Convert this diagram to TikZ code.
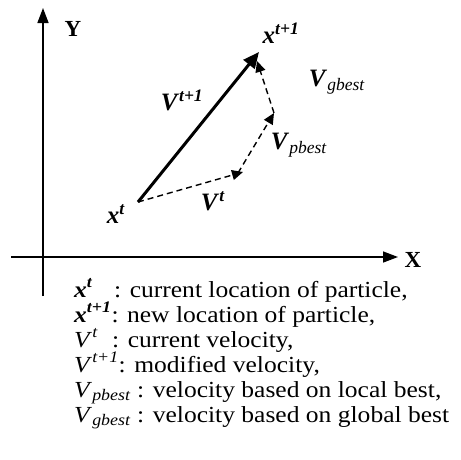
\documentclass[tikz,border=0pt]{standalone}
\usepackage{fontspec}
\setmainfont{Liberation Serif}
\newfontfamily\legfont[FakeStretch=1.11]{Liberation Serif}
\usetikzlibrary{arrows.meta}
\newcommand\bix[1]{\textbf{\textit{#1}}}
\begin{document}
\begin{tikzpicture}[x=1pt,y=-1pt,
  axis/.style={line width=1.5pt,-{Triangle[length=15pt,width=11pt]}},
  mainvec/.style={line width=3pt,-{Triangle[length=16pt,width=14pt]}},
  compvec/.style={line width=1.4pt,dash pattern=on 6pt off 4pt,-{Triangle[length=11pt,width=10pt]}},
  lbl/.style={font=\fontsize{25}{28}\selectfont,inner sep=0pt},
  axlbl/.style={font=\fontsize{23}{26}\selectfont\bfseries,inner sep=0pt},
  leg/.style={font=\legfont\fontsize{23}{25}\selectfont,inner sep=0pt,anchor=base west}]
\useasboundingbox (0,0) rectangle (461,459);
% axes
\coordinate (yb) at (43,296);
\coordinate (yt) at (43,8);
\coordinate (xl) at (11,257);
\coordinate (xr) at (398,257);
\draw[axis] (yb) -- (yt);
\draw[axis] (xl) -- (xr);
\node[axlbl] (ylab) at (73,29) {Y};
\node[axlbl] (xlab) at (413,260) {X};
% points
\coordinate (xt) at (138,202);
\coordinate (xt1) at (259,52);
\coordinate (vt) at (243,172);
\coordinate (vts) at (238,173);
\coordinate (vp) at (274,113);
\coordinate (vg) at (257,61);
\draw[mainvec] (xt) -- (xt1);
\draw[compvec] (xt) -- (vt);
\draw[compvec] (vts) -- (vp);
\draw[compvec] (vp) -- (vg);
% labels
\node[lbl] (lxt) at (116,214) {\bix{x}\textsuperscript{\bix{t}}};
\node[lbl] (lxt1) at (281,33) {\bix{x}\textsuperscript{\bix{t+1}}};
\node[lbl] (lv1) at (182,100) {\bix{V}\textsuperscript{\bix{t+1}}};
\node[lbl] (lvg) at (337,82) {\bix{V}\textsubscript{\textit{gbest}}};
\node[lbl] (lvp) at (299,145) {\bix{V}\textsubscript{\textit{pbest}}};
\node[lbl] (lvt) at (213,201) {\bix{V}\textsuperscript{\bix{t}}};
% legend
\node[leg] (l1) at (74,297) {\makebox[40pt][l]{\bix{x}\textsuperscript{\bix{t}}}: current location of particle,};
\node[leg] (l2) at (74,322) {\bix{x}\textsuperscript{\bix{t+1}}: new location of particle,};
\node[leg] (l3) at (74,347) {\makebox[38pt][l]{\textit{V}\textsuperscript{\textit{t}}}: current velocity,};
\node[leg] (l4) at (74,372) {\textit{V}\textsuperscript{\textit{t+1}}: modified velocity,};
\node[leg] (l5) at (74,397) {\textit{V}\textsubscript{\textit{pbest}} : velocity based on local best,};
\node[leg] (l6) at (74,422) {\textit{V}\textsubscript{\textit{gbest}} : velocity based on global best};
\end{tikzpicture}
\end{document}
